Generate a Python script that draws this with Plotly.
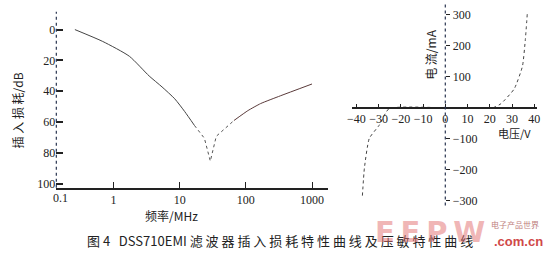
import plotly.graph_objects as go

W, H = 549, 253

# ---- data: insertion loss (left) ----
freq_mhz = [0.26, 0.685, 1.73, 3.45, 5.4, 8.4, 11.9, 16.7, 23.6, 29, 35.7, 66, 107, 167, 331, 1000]
loss_db = [0, 7.7, 17.3, 30.1, 37.2, 44.9, 53.2, 62.2, 70.5, 85.3, 69.2, 59, 52.6, 48, 43, 35.3]
loss_ticks = [0, 20, 40, 60, 80, 100]
freq_ticks = [1, 10, 100, 1000]
freq_ticklabels = ["1", "10", "100", "1000"]

# ---- data: varistor V-I (right) ----
volt_v = [-37.3, -36.4, -34.2, -29.8, -25.3, 0, 21.3, 25, 31, 34.7, 36, 36.9]
curr_ma = [-284, -195, -99, -57, -3, 0, 0, 13, 61, 134, 220, 306]
volt_ticks = [-40, -30, -20, -10, 0, 10, 20, 30, 40]
curr_ticks = [-300, -200, -100, 100, 200, 300]


def px(x):
    return x / W


def py(y):
    return (H - y) / H


fig = go.Figure()

# left curve: solid, dotted V, solid
fig.add_trace(go.Scatter(x=freq_mhz[:8], y=loss_db[:8], mode="lines",
                         line=dict(color="#444444", width=1, shape="spline", smoothing=0.6),
                         xaxis="x", yaxis="y", showlegend=False))
fig.add_trace(go.Scatter(x=freq_mhz[7:12], y=loss_db[7:12], mode="lines",
                         line=dict(color="#555555", width=1, dash="dot"), xaxis="x", yaxis="y", showlegend=False))
fig.add_trace(go.Scatter(x=freq_mhz[11:], y=loss_db[11:], mode="lines",
                         line=dict(color="#5a3a3a", width=1, shape="spline", smoothing=0.5),
                         xaxis="x", yaxis="y", showlegend=False))

# right curve
fig.add_trace(go.Scatter(x=volt_v, y=curr_ma, mode="lines",
                         line=dict(color="#444444", width=1, dash="dot", shape="spline", smoothing=0.5),
                         xaxis="x2", yaxis="y2", showlegend=False))

tickfont = dict(family="Liberation Serif", size=12, color="#222222")
cjk = "Noto Sans CJK SC"

fig.update_layout(
    width=W, height=H, margin=dict(l=0, r=0, t=0, b=0),
    paper_bgcolor="white", plot_bgcolor="rgba(0,0,0,0)",
    xaxis=dict(type="log", domain=[px(53), px(328)], range=[-0.866, 3.239],
               tickvals=freq_ticks, ticktext=freq_ticklabels, ticks="inside", ticklen=6,
               tickcolor="#222", showline=True, linecolor="#222", linewidth=2,
               showgrid=False, zeroline=False, tickfont=tickfont, anchor="y"),
    yaxis=dict(domain=[py(190), py(12)], range=[102.6, -11.5], tickvals=loss_ticks,
               ticks="inside", ticklen=7, tickwidth=2, tickcolor="#222", showline=False,
               showgrid=False, zeroline=False, tickfont=tickfont, anchor="x"),
    xaxis2=dict(domain=[px(352), px(540)], range=[-42.2, 41.3], tickvals=volt_ticks,
                ticks="inside", ticklen=3, tickcolor="#222", showline=True, linecolor="#222",
                linewidth=1.5, showgrid=False, zeroline=False, tickfont=tickfont,
                anchor="free", position=py(109)),
    yaxis2=dict(domain=[py(208), py(3)], range=[-316, 338.7], tickvals=curr_ticks,
                ticks="outside", ticklen=4, tickcolor="#222", showline=False,
                showgrid=False, zeroline=False, tickfont=tickfont,
                anchor="free", position=px(447), side="right"),
)

# dotted vertical axes
fig.add_shape(type="line", xref="paper", yref="paper", x0=px(53), x1=px(53), y0=py(190), y1=py(12),
              line=dict(color="#2a3550", width=1.2, dash="dot"))
fig.add_shape(type="line", xref="paper", yref="paper", x0=px(447), x1=px(447), y0=py(208), y1=py(3),
              line=dict(color="#2a3550", width=1.2, dash="dot"))

ann = []


def A(text, x, y, size=12, family=cjk, color="#222222", angle=0, **kw):
    ann.append(dict(text=text, x=px(x), y=py(y), xref="paper", yref="paper", showarrow=False,
                    font=dict(family=family, size=size, color=color), textangle=angle,
                    xanchor="center", yanchor="middle", **kw))


A("0.1", 57, 200, family="Liberation Serif")
A("频率/MHz", 170, 218, size=12)
A("插 入 损 耗/dB", 14, 112, size=12, angle=-90)
A("电 流/mA", 432, 55, size=12, angle=-90)
A("电压/V", 517, 135, size=11)
A("图 4   DSS710EMI 滤 波 器 插 入 损 耗 特 性 曲 线 及 压 敏 特 性 曲 线", 280, 243, size=13)
# watermark
A("<b>E\u2009E\u2009P\u2009W</b>", 431, 235, size=29, family="DejaVu Sans", color="rgba(225,110,110,0.5)")
A("电子产品世界", 518, 227, size=8, color="#c08080")
A("<b>.com.cn</b>", 521, 244, size=13, family="Liberation Sans", color="#d04848")

fig.update_layout(annotations=ann)
fig.write_html("out.html")
